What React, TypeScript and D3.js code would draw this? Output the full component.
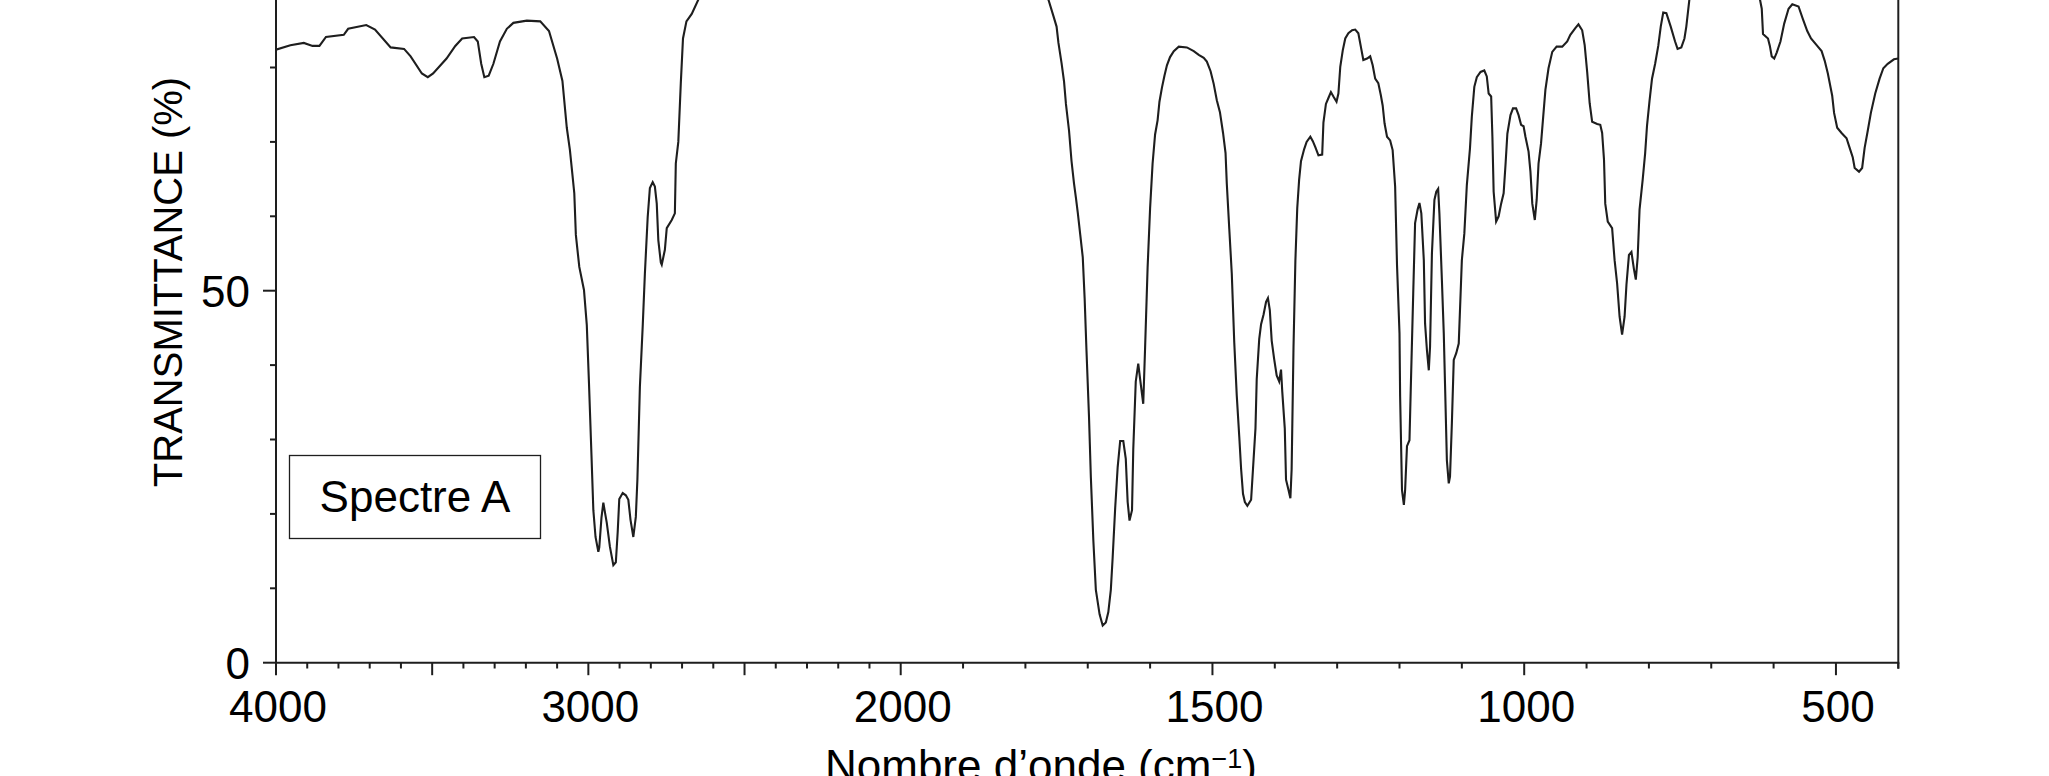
import React, { useEffect } from 'react';
import * as d3 from 'd3';

// ---- Data ----
const wavenumbers: number[] = [
  4000, 3954, 3911, 3883, 3861, 3840, 3783, 3769, 3711, 3683, 3633, 3590, 3569, 3533, 3514, 3497,
  3454, 3426, 3404, 3366, 3354, 3343, 3333, 3319, 3304, 3283, 3261, 3240, 3197, 3154, 3126, 3100,
  3083, 3069, 3059, 3051, 3045, 3040, 3029, 3014, 3005, 2998, 2990, 2984, 2977, 2968, 2965, 2958,
  2952, 2946, 2941, 2931, 2920, 2912, 2906, 2901, 2890, 2880, 2872, 2865, 2856, 2848, 2843, 2839,
  2835, 2826, 2819, 2810, 2803, 2794, 2787, 2781, 2776, 2768, 2765, 2755, 2749, 2733, 2723, 2720,
  2712, 2704, 2697, 2686, 2669, 2647, 2630, 2500, 2200, 2000, 1850, 1780,
  1763, 1755, 1750, 1747, 1742, 1738, 1735, 1730, 1726, 1722, 1719, 1716, 1712, 1708, 1705, 1702,
  1698, 1695, 1691, 1687, 1681, 1676, 1671, 1667, 1663, 1660, 1656, 1652, 1648, 1643, 1639, 1636,
  1633, 1629, 1627, 1623, 1619, 1616, 1611, 1608, 1604, 1600, 1596, 1592, 1588, 1585, 1581, 1577,
  1573, 1568, 1562, 1554, 1541, 1530, 1522, 1514, 1509, 1503, 1498, 1493, 1488, 1483, 1479, 1477,
  1473, 1469, 1465, 1461, 1457, 1454, 1451, 1448, 1444, 1438, 1435, 1431, 1429, 1425, 1422, 1418,
  1414, 1411, 1408, 1405, 1401, 1397, 1393, 1390, 1388, 1384, 1382, 1378, 1375, 1373, 1370, 1367,
  1364, 1361, 1358, 1353, 1349, 1343, 1339, 1335, 1330, 1324, 1322, 1318, 1314, 1310, 1306, 1301,
  1298, 1295, 1291, 1287, 1282, 1276, 1271, 1266, 1262, 1258, 1252, 1247, 1243, 1239, 1234, 1230,
  1227, 1224, 1220, 1215, 1211, 1207, 1204, 1200, 1199, 1196, 1193, 1191, 1188, 1184, 1182, 1178,
  1175, 1171, 1168, 1165, 1161, 1159, 1156, 1153, 1151, 1148, 1144, 1141, 1138, 1136, 1132, 1129,
  1127, 1124, 1121, 1119, 1116, 1113, 1109, 1105, 1102, 1100, 1096, 1092, 1087, 1084, 1080, 1076,
  1070, 1064, 1060, 1057, 1053, 1051, 1049, 1045, 1041, 1037, 1033, 1030, 1027, 1022, 1018, 1013,
  1009, 1005, 1001, 998, 993, 990, 987, 983, 980, 977, 973, 970, 966, 961, 955, 948,
  939, 931, 926, 918, 913, 907, 903, 899, 895, 891, 883, 878, 875, 872, 870, 866,
  859, 855, 851, 847, 843, 839, 836, 832, 828, 824, 821, 818, 815, 810, 806, 803,
  799, 795, 790, 785, 781, 777, 772, 765, 758, 754, 748, 743, 740, 735, 728, 680,
  630, 622, 619, 617, 609, 606, 603, 599, 595, 589, 583, 576, 570, 560, 553, 546,
  540, 530, 523, 518, 513, 506, 503, 498, 491, 483, 478, 473, 470, 463, 458, 454,
  449, 444, 437, 430, 424, 417, 407, 400,
];

const transmittance: number[] = [
  82.4, 83.0, 83.3, 82.9, 82.9, 84.1, 84.4, 85.2, 85.7, 85.1, 82.7, 82.5, 81.5, 79.2, 78.7, 79.2,
  81.2, 82.9, 83.9, 84.1, 83.5, 80.5, 78.7, 78.9, 80.5, 83.5, 85.2, 86.0, 86.3, 86.2, 84.9, 81.2,
  78.2, 71.9, 68.9, 65.6, 63.1, 57.5, 53.2, 50.1, 45.4, 37.6, 27.9, 20.5, 16.9, 14.9, 15.5, 19.5,
  21.5, 20.0, 18.8, 15.6, 13.1, 13.5, 17.6, 22.0, 22.8, 22.5, 21.9, 19.2, 16.9, 19.6, 24.6, 30.8,
  37.1, 45.2, 52.3, 59.9, 63.8, 64.6, 64.0, 61.7, 56.8, 53.8, 53.5, 55.5, 58.4, 59.5, 60.4, 67.1,
  70.0, 77.9, 83.9, 86.2, 87.2, 89.2, 91.0, 93.0, 94.0, 93.0, 92.0, 90.5,
  89.1, 86.9, 85.5, 83.3, 80.6, 78.1, 75.1, 71.5, 67.4, 64.4, 62.5, 60.5, 57.5, 54.5, 49.0, 41.9,
  33.1, 24.9, 16.4, 9.8, 6.5, 5.0, 5.4, 6.8, 9.8, 14.2, 20.8, 26.3, 29.8, 29.8, 27.4, 21.6,
  19.1, 20.5, 28.7, 37.8, 40.2, 38.1, 34.8, 42.4, 53.1, 61.1, 67.1, 71.0, 72.9, 75.4, 77.3, 78.9,
  80.3, 81.4, 82.2, 82.8, 82.7, 82.2, 81.7, 81.3, 80.8, 79.5, 77.8, 75.6, 74.0, 71.2, 68.5, 64.4,
  58.3, 52.3, 43.0, 35.9, 30.4, 26.0, 22.7, 21.6, 21.1, 21.9, 26.0, 31.5, 38.1, 43.5, 45.5, 46.8,
  48.5, 49.0, 47.4, 43.3, 40.8, 38.6, 37.8, 39.4, 36.4, 31.5, 24.6, 23.2, 22.1, 26.0, 42.4, 54.0,
  61.1, 64.9, 67.4, 69.0, 70.0, 70.7, 70.1, 69.3, 68.2, 68.3, 72.6, 75.1, 75.9, 76.7, 76.1, 75.4,
  76.5, 80.1, 82.3, 83.9, 84.6, 85.0, 85.1, 84.6, 82.8, 81.0, 81.2, 81.5, 80.3, 78.5, 77.9, 76.3,
  74.9, 72.5, 70.7, 70.2, 68.9, 64.0, 53.5, 44.3, 35.8, 23.2, 21.2, 23.2, 29.1, 29.9, 36.6, 49.6,
  59.1, 60.9, 61.8, 60.4, 54.1, 45.6, 42.0, 39.3, 42.5, 55.0, 62.2, 63.3, 63.7, 60.4, 51.4, 44.3,
  37.5, 27.2, 24.1, 25.0, 32.2, 40.7, 41.6, 42.9, 49.6, 54.1, 57.7, 64.2, 69.1, 73.4, 77.4, 78.7,
  79.4, 79.6, 78.8, 76.5, 76.1, 70.7, 63.3, 59.3, 60.0, 61.7, 63.1, 66.9, 71.1, 73.6, 74.5, 74.5,
  73.6, 72.3, 72.1, 70.7, 68.7, 66.0, 61.7, 59.5, 62.2, 67.1, 69.8, 72.9, 77.0, 79.9, 82.1, 82.8,
  82.8, 83.5, 84.4, 85.3, 85.8, 85.0, 83.0, 79.4, 75.2, 72.7, 72.4, 72.3, 71.2, 67.6, 61.7, 59.3,
  58.4, 54.1, 51.0, 46.5, 44.1, 46.5, 50.8, 54.8, 55.2, 52.9, 51.5, 54.5, 60.9, 64.9, 68.5, 72.2,
  75.5, 78.5, 80.5, 82.9, 85.5, 87.4, 87.3, 85.5, 83.5, 82.5, 82.7, 83.9, 85.5, 89.2, 91.0, 92.0,
  90.5, 89.2, 87.9, 84.5, 83.9, 82.9, 81.5, 81.2, 82.0, 83.5, 85.9, 87.9, 88.5, 88.2, 86.5, 84.9,
  83.9, 82.9, 82.2, 80.9, 79.2, 76.2, 73.9, 71.9, 71.2, 70.5, 69.2, 67.9, 66.5, 66.0, 66.5, 69.2,
  71.5, 73.9, 76.5, 78.5, 79.9, 80.5, 81.1, 81.2,
];

const xTickLabels = [4000, 3000, 2000, 1500, 1000, 500];
const xMajorTicks = [4000, 3500, 3000, 2500, 2000, 1500, 1000, 500];
const yTickLabels = [0, 50];
const yMajorTicks = [0, 50];
const legendLabel = 'Spectre A';
const yTitle = 'TRANSMITTANCE (%)';
const xTitleMain = 'Nombre d\u2019onde (cm';
const xTitleSup = '\u22121';

const W = 2049;
const H = 776;
const FONT = '"Liberation Sans", Arial, Helvetica, sans-serif';
const INK = '#1e1e1e';

export default function App() {
  useEffect(() => {
    document.body.style.margin = '0';
    document.body.style.overflow = 'hidden';
  }, []);

  const x = d3.scaleLinear().domain([4000, 2000, 400]).range([276, 900.7, 1898.3]);
  const y = d3.scaleLinear().domain([0, 100]).range([662.7, -81.3]);

  const pts: [number, number][] = wavenumbers.map((w, i) => [w, transmittance[i]]);
  const line = d3
    .line<[number, number]>()
    .x((d) => x(d[0]))
    .y((d) => y(d[1]))
    .curve(d3.curveLinear);

  const xMinor = d3.range(4000, 399, -100).filter((v) => !xMajorTicks.includes(v));
  const yMinor = d3.range(0, 101, 10).filter((v) => !yMajorTicks.includes(v));

  const x0 = x(4000);
  const x1 = x(400);
  const yb = y(0);
  const yt = y(100);

  return (
    <svg
      width={W}
      height={H}
      viewBox={`0 0 ${W} ${H}`}
      style={{ position: 'absolute', left: 0, top: 0, background: '#fff' }}
      fontFamily={FONT}
    >
      <rect x={0} y={0} width={W} height={H} fill="#fff" />
      <defs>
        <clipPath id="plot">
          <rect x={x0} y={yt} width={x1 - x0} height={yb - yt} />
        </clipPath>
      </defs>

      {/* spectrum */}
      <path
        d={line(pts) || ''}
        fill="none"
        stroke={INK}
        strokeWidth={2.1}
        strokeLinejoin="miter"
        clipPath="url(#plot)"
      />

      {/* axes */}
      <g stroke={INK} strokeWidth={2} fill="none">
        <line x1={x0} y1={yt} x2={x0} y2={yb} />
        <line x1={x0 - 1} y1={yb} x2={x1 + 1} y2={yb} />
        <line x1={x1} y1={yt} x2={x1} y2={yb + 6} />
        {xMajorTicks.map((v) => (
          <line key={`xM${v}`} x1={x(v)} y1={yb} x2={x(v)} y2={yb + 12.5} />
        ))}
        {xMinor.map((v) => (
          <line key={`xm${v}`} x1={x(v)} y1={yb} x2={x(v)} y2={yb + 5.8} />
        ))}
        {yMajorTicks.map((v) => (
          <line key={`yM${v}`} x1={x0 - 13} y1={y(v)} x2={x0} y2={y(v)} />
        ))}
        {yMinor.map((v) => (
          <line key={`ym${v}`} x1={x0 - 6} y1={y(v)} x2={x0} y2={y(v)} />
        ))}
      </g>

      {/* tick labels */}
      <g fill="#000" fontSize={44}>
        {xTickLabels.map((v) => (
          <text key={`xl${v}`} x={x(v) + 2} y={722} textAnchor="middle">
            {v}
          </text>
        ))}
        {yTickLabels.map((v) => (
          <text key={`yl${v}`} x={250} y={y(v) + 16} textAnchor="end">
            {v}
          </text>
        ))}
      </g>

      {/* axis titles */}
      <text
        x={0}
        y={0}
        transform={`translate(182, 282) rotate(-90)`}
        textAnchor="middle"
        fontSize={40}
        fill="#000"
      >
        {yTitle}
      </text>
      <text x={825} y={781} fontSize={44} fill="#000">
        {xTitleMain}
        <tspan fontSize={27} dy={-13}>
          {xTitleSup}
        </tspan>
        <tspan dy={13}>)</tspan>
      </text>

      {/* legend box */}
      <rect x={289.5} y={455.5} width={251} height={83} fill="#fff" stroke={INK} strokeWidth={1.3} />
      <text x={415} y={512} textAnchor="middle" fontSize={44} fill="#000">
        {legendLabel}
      </text>
    </svg>
  );
}
